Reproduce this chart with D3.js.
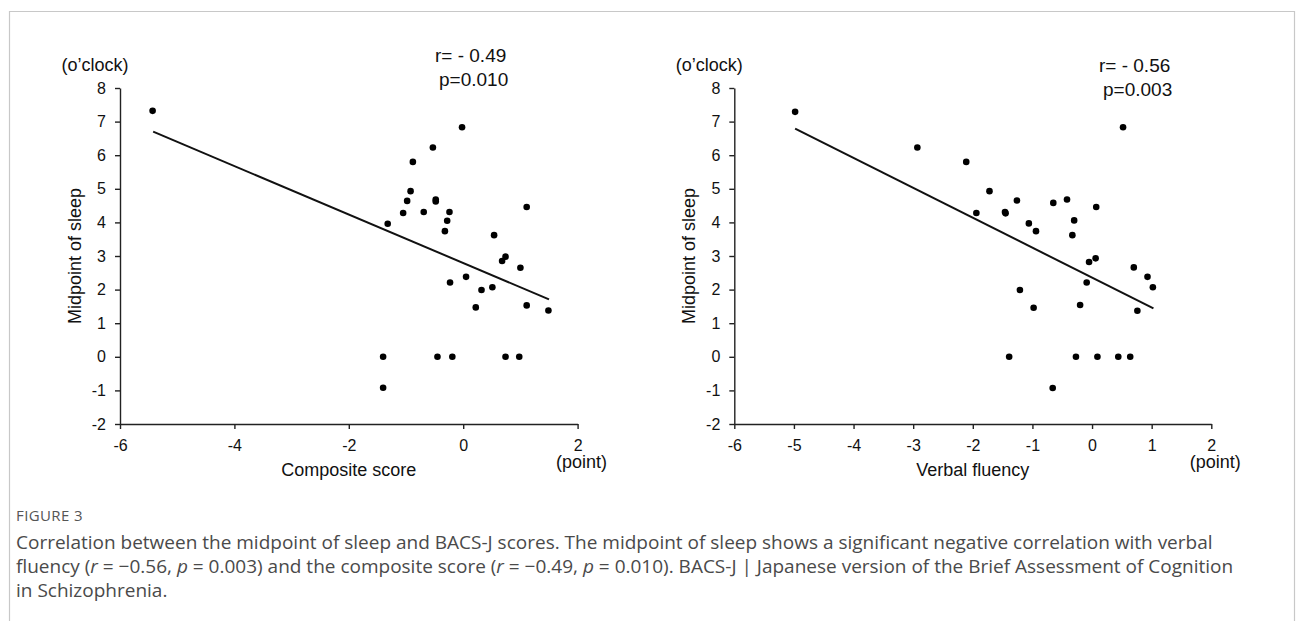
<!DOCTYPE html>
<html>
<head>
<meta charset="utf-8">
<script src="https://cdn.jsdelivr.net/npm/d3@7/dist/d3.min.js"></script>
<style>
  html, body { margin: 0; padding: 0; background: #fff; }
  svg { display: block; }
</style>
</head>
<body>
<svg id="chart" width="1298" height="621"></svg>
<script>
// ---------- data ----------
const compositeScore = [-5.43, -0.02, -0.53, -0.88, -0.92, -0.98, -0.48, -0.48, -1.05, -0.69, -0.24, -0.28, -0.32, -1.32, 1.11, 0.54, 0.74, 0.68, 1.00, 0.05, -0.23, 0.32, 0.51, 0.22, 1.11, 1.49, -1.40, -0.45, -0.19, 0.74, 0.98, -1.40];
const sleepMidComposite = [7.32, 6.83, 6.23, 5.80, 4.93, 4.64, 4.68, 4.62, 4.28, 4.31, 4.31, 4.05, 3.74, 3.96, 4.46, 3.62, 2.98, 2.85, 2.65, 2.38, 2.21, 1.99, 2.07, 1.47, 1.53, 1.38, 0, 0, 0, 0, 0, -0.92];

const verbalFluency = [-4.98, -2.93, -2.11, 0.52, -1.72, -1.94, -1.46, -1.45, -1.26, -0.65, -0.42, 0.07, -1.06, -0.94, -0.30, -0.33, -0.05, 0.06, 0.70, 0.93, 1.02, -0.09, -1.21, -0.98, -0.20, 0.76, -1.39, -0.27, 0.09, 0.44, 0.64, -0.66];
const sleepMidVerbal = [7.29, 6.23, 5.80, 6.83, 4.93, 4.28, 4.31, 4.27, 4.65, 4.58, 4.68, 4.46, 3.97, 3.74, 4.06, 3.62, 2.82, 2.93, 2.66, 2.38, 2.07, 2.21, 1.99, 1.46, 1.54, 1.37, 0, 0, 0, 0, 0, -0.93];

// regression line end points [x, y]
const compositeFit = [[-5.42, 6.70], [1.50, 1.71]];
const verbalFit = [[-4.98, 6.79], [1.03, 1.44]];

const yTicks = [-2, -1, 0, 1, 2, 3, 4, 5, 6, 7, 8];
const xTicksComposite = [-6, -4, -2, 0, 2];
const xTicksVerbal = [-6, -5, -4, -3, -2, -1, 0, 1, 2];

const panels = [
  { xs: compositeScore, ys: sleepMidComposite, fit: compositeFit, xTicks: xTicksComposite,
    xLabel: "Composite score", r: "r= - 0.49", p: "p=0.010" },
  { xs: verbalFluency, ys: sleepMidVerbal, fit: verbalFit, xTicks: xTicksVerbal,
    xLabel: "Verbal fluency", r: "r= - 0.56", p: "p=0.003" }
];

// ---------- layout ----------
const layout = [
  { x0: 120, x1: 577.6, rX: 435, rY: 62, labX: 81 },
  { x0: 734.3, x1: 1211.3, rX: 1099, rY: 71.5, labX: 695 }
];
const yTop = 88, yBot = 424;
const FONT = "'Liberation Sans', Arial, Helvetica, sans-serif";

const svg = d3.select("#chart");

// frame
svg.append("path")
  .attr("d", "M9.5,700 V11.5 H1294.5 V700")
  .attr("fill", "none").attr("stroke", "#c8c8c8").attr("stroke-width", 1.2);

panels.forEach((pn, i) => {
  const L = layout[i];
  const x = d3.scaleLinear().domain([-6, 2]).range([L.x0, L.x1]);
  const y = d3.scaleLinear().domain([-2, 8]).range([yBot, yTop]);
  const g = svg.append("g");

  const xAxis = g.append("g").attr("transform", `translate(0,${yBot})`)
    .call(d3.axisBottom(x).tickValues(pn.xTicks).tickSize(5).tickSizeOuter(0).tickPadding(11).tickFormat(d3.format("d")));
  const yAxis = g.append("g").attr("transform", `translate(${L.x0},0)`)
    .call(d3.axisLeft(y).tickValues(yTicks).tickSize(5).tickSizeOuter(0).tickPadding(9).tickFormat(d3.format("d")));
  [xAxis, yAxis].forEach(a => {
    a.selectAll("path, line").attr("stroke", "#222").attr("stroke-width", 1.4);
    a.selectAll("text").attr("fill", "#111").style("font-family", FONT).style("font-size", "16px");
  });
  // use hyphen-minus like the original
  g.selectAll(".tick text").text(d => String(d));

  // regression line
  g.append("path")
    .datum(pn.fit)
    .attr("d", d3.line().x(d => x(d[0])).y(d => y(d[1])))
    .attr("fill", "none").attr("stroke", "#111").attr("stroke-width", 2);

  // points
  g.selectAll("circle").data(pn.xs.map((v, k) => [v, pn.ys[k]])).join("circle")
    .attr("cx", d => x(d[0])).attr("cy", d => y(d[1])).attr("r", 3.3).attr("fill", "#000");

  // labels
  g.append("text").text("(o\u2019clock)")
    .attr("x", L.x0 - 25).attr("y", 71).attr("text-anchor", "middle")
    .style("font-family", FONT).style("font-size", "18px").attr("fill", "#111");
  g.append("text").text("Midpoint of sleep")
    .attr("transform", `translate(${L.labX},${(yTop + yBot) / 2}) rotate(-90)`)
    .attr("text-anchor", "middle")
    .style("font-family", FONT).style("font-size", "18px").attr("fill", "#111");
  g.append("text").text(pn.xLabel)
    .attr("x", (L.x0 + L.x1) / 2).attr("y", 476).attr("text-anchor", "middle")
    .style("font-family", FONT).style("font-size", "18px").attr("fill", "#111");
  g.append("text").text("(point)")
    .attr("x", L.x1 + 4).attr("y", 468).attr("text-anchor", "middle")
    .style("font-family", FONT).style("font-size", "18px").attr("fill", "#111");
  g.append("text").text(pn.r)
    .attr("x", L.rX).attr("y", L.rY)
    .style("font-family", FONT).style("font-size", "19px").attr("fill", "#111");
  g.append("text").text(pn.p)
    .attr("x", L.rX + 4).attr("y", L.rY + 24)
    .style("font-family", FONT).style("font-size", "19px").attr("fill", "#111");
});

// ---------- caption ----------
const CAP = "'Open Sans', 'Noto Sans', sans-serif";
svg.append("text").text("FIGURE 3")
  .attr("x", 16).attr("y", 521)
  .style("font-family", CAP).style("font-size", "15px").style("letter-spacing", "0.4px").attr("fill", "#555");

const captionLines = [
  [["Correlation between the midpoint of sleep and BACS-J scores. The midpoint of sleep shows a significant negative correlation with verbal", false]],
  [["fluency (", false], ["r", true], [" = \u22120.56, ", false], ["p", true], [" = 0.003) and the composite score (", false], ["r", true],
   [" = \u22120.49, ", false], ["p", true], [" = 0.010). BACS-J | Japanese version of the Brief Assessment of Cognition", false]],
  [["in Schizophrenia.", false]]
];
captionLines.forEach((line, li) => {
  const t = svg.append("text").attr("x", 16).attr("y", 549 + li * 24)
    .style("font-family", CAP).style("font-size", "19px").attr("fill", "#4a4a4a");
  line.forEach(([s, it]) => t.append("tspan").text(s).style("font-style", it ? "italic" : "normal"));
});
</script>
</body>
</html>
